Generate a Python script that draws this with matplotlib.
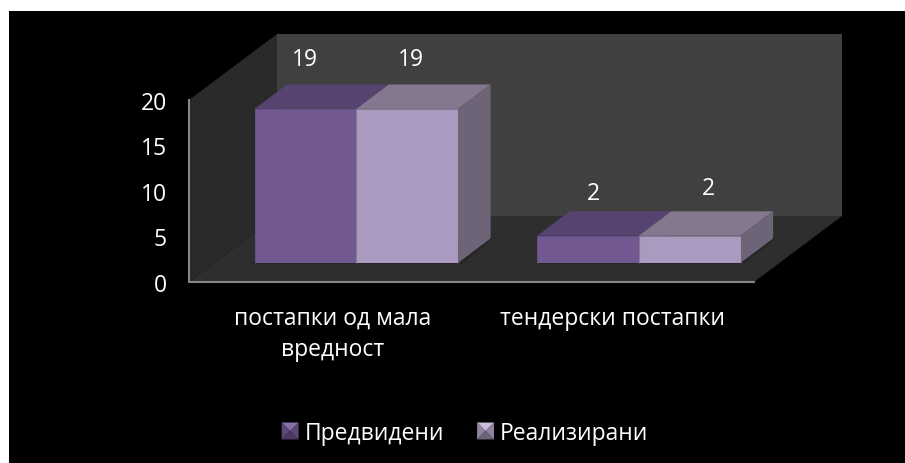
import numpy as np
import matplotlib
matplotlib.use("Agg")
import matplotlib.pyplot as plt
from matplotlib.patches import Polygon, Patch
from matplotlib.legend_handler import HandlerBase

categories = ["постапки од мала\nвредност", "тендерски постапки"]
series_names = ["Предвидени", "Реализирани"]
predvideni = [19, 2]
realizirani = [19, 2]
y_ticks = [0, 5, 10, 15, 20]

plt.rcParams["font.family"] = ["Open Sans", "Noto Sans", "DejaVu Sans"]

W, H = 905, 464
FONT = 16.5
fig = plt.figure(figsize=(W / 100, H / 100), dpi=100, facecolor="white")

# black slide background, white strip on top and left
bg = fig.add_axes([9 / W, 0, 1 - 9 / W, 1 - 12 / H])
bg.set_facecolor("black")
bg.set_xticks([])
bg.set_yticks([])
for s in bg.spines.values():
    s.set_visible(False)

# axes = front plane of the 3d box
ax = fig.add_axes([189 / W, 1 - 283 / H, (754 - 189) / W, (283 - 101) / H])
ax.set_xlim(0, 2)
ax.set_ylim(0, 20)
ax.patch.set_alpha(0)
for s in ax.spines.values():
    s.set_visible(False)

# depth of the box in data units
DX = 88 / (565 / 2)
DY = 66 / (182 / 20)


def proj(x, y, d):
    return (x + d * DX, y + d * DY)


def face(pts, color, z=1, **kw):
    ax.add_patch(Polygon(pts, closed=True, facecolor=color, edgecolor="none",
                         clip_on=False, zorder=z, **kw))


# walls and floor
face([proj(0, 0, 1), proj(2, 0, 1), proj(2, 20, 1), proj(0, 20, 1)], "#404040")
face([proj(0, 0, 0), proj(0, 0, 1), proj(0, 20, 1), proj(0, 20, 0)], "#2a2a2a")
face([proj(0, 0, 0), proj(2, 0, 0), proj(2, 0, 1), proj(0, 0, 1)], "#2e2e2e")


# 3d bars come out shorter than the axis says, this fits the drawn heights
def bar_height(v):
    return 1.34 + 0.82 * v


BAR_W = 0.36
GROUP_OFF = 0.142
D0, D1 = 0.29, 0.66


def draw_box(x, v, front, top, side, z):
    h = bar_height(v)
    x1 = x + BAR_W
    face([proj(x, h, D0), proj(x1, h, D0), proj(x1, h, D1), proj(x, h, D1)], top, z)
    face([proj(x1, 0, D0), proj(x1, 0, D1), proj(x1, h, D1), proj(x1, h, D0)], side, z)
    face([proj(x, 0, D0), proj(x1, 0, D0), proj(x1, h, D0), proj(x, h, D0)], front, z + 0.1)
    # soft bevel along the front edges
    xs, ys = zip(proj(x, 0, D0), proj(x, h, D0), proj(x1, h, D0), proj(x1, 0, D0))
    ax.plot(xs, ys, color=side, lw=0.8, alpha=0.6, clip_on=False, zorder=z + 0.2)


colors = [("#725890", "#57436f", "#5f4b78"), ("#ab9abf", "#84788f", "#6d6577")]

# thin shadow on the floor under each group
for i in range(len(categories)):
    x0 = i + GROUP_OFF - 0.012
    x1 = i + GROUP_OFF + 2 * BAR_W + 0.012
    face([proj(x0, -0.15, D0), proj(x1, -0.15, D0), proj(x1, 0.1, D1), proj(x0, 0.1, D1)],
         "#262626", 1.5)

for i in range(len(categories)):
    x = i + GROUP_OFF
    draw_box(x, predvideni[i], *colors[0], z=2)
    draw_box(x + BAR_W, realizirani[i], *colors[1], z=3)

# data labels, placed above the back of each bar as in the chart
label_offsets = [[(-1, 50), (4, 50)], [(5, 43), (19, 48)]]
for i in range(len(categories)):
    for j, vals in enumerate([predvideni, realizirani]):
        x = i + GROUP_OFF + j * BAR_W + BAR_W / 2
        px, py = proj(x, bar_height(vals[i]), D0)
        ox, oy = label_offsets[i][j]
        ax.annotate(str(vals[i]), (px, py), xytext=(ox * 0.72, oy * 0.72),
                    textcoords="offset points", ha="center", va="center",
                    color="white", fontsize=FONT, zorder=6, annotation_clip=False)

# axis lines
ax.plot([0, 0, 2], [20, 0, 0], color="#868686", lw=1.5, clip_on=False, zorder=5,
        solid_joinstyle="miter")

ax.set_yticks(y_ticks)
ax.set_xticks([0.51, 1.5])
ax.set_xticklabels(categories, linespacing=1.4)
ax.tick_params(axis="both", length=0, labelcolor="white", labelsize=FONT)
ax.tick_params(axis="y", pad=16)
ax.tick_params(axis="x", pad=17)


# legend swatches look like small pyramids
class PyramidHandler(HandlerBase):
    def __init__(self, shades):
        super().__init__()
        self.shades = shades

    def create_artists(self, legend, orig, xd, yd, w, h, fontsize, trans):
        s = 12.2
        x0 = xd * -1 + (w - s) / 2
        y0 = yd * -1 + (h - s) / 2
        c = (x0 + s / 2, y0 + s / 2)
        a, b, cc, d = (x0, y0), (x0 + s, y0), (x0 + s, y0 + s), (x0, y0 + s)
        out = []
        for pts, col in zip([(d, cc), (a, d), (b, cc), (a, b)], self.shades):
            out.append(Polygon([pts[0], pts[1], c], closed=True, facecolor=col,
                               edgecolor="none", transform=trans))
        return out


h1 = Patch(facecolor="#725890")
h2 = Patch(facecolor="#ab9abf")
fig.legend([h1, h2], series_names, loc="center", bbox_to_anchor=(465 / W, 1 - 434 / H),
           ncol=2, frameon=False, fontsize=FONT, labelcolor="white", columnspacing=1.44,
           handlelength=0.74, handletextpad=0.26,
           handler_map={h1: PyramidHandler(["#8a70a8", "#5c4775", "#5c4775", "#4a3a60"]),
                        h2: PyramidHandler(["#c9bcd8", "#8f819f", "#8f819f", "#6d6577"])})

fig.savefig("out.png", dpi=100, facecolor=fig.get_facecolor())
